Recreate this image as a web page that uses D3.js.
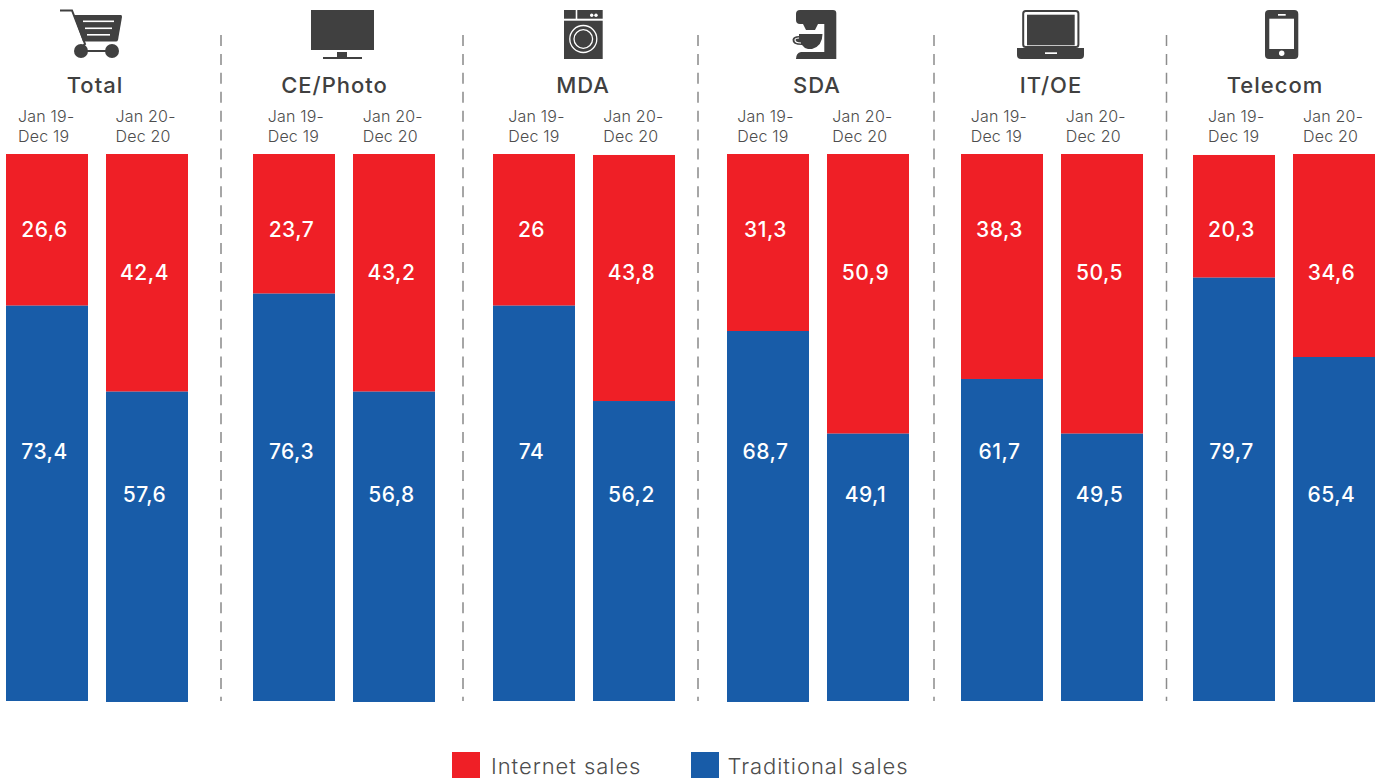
<!DOCTYPE html>
<html>
<head>
<meta charset="utf-8">
<script src="https://cdn.jsdelivr.net/npm/d3@7"></script>
<style>
  body { margin: 0; background: #fff; overflow: hidden; }
  text { font-family: Inter, "Noto Sans", sans-serif; }
</style>
</head>
<body>
<div id="my_dataviz"></div>
<script>
const categories = ["Total", "CE/Photo", "MDA", "SDA", "IT/OE", "Telecom"]
const periods = [["Jan 19-", "Dec 19"], ["Jan 20-", "Dec 20"]]

// the numbers printed on the bars
const internet2019 = ["26,6", "23,7", "26", "31,3", "38,3", "20,3"]
const internet2020 = ["42,4", "43,2", "43,8", "50,9", "50,5", "34,6"]
const traditional2019 = ["73,4", "76,3", "74", "68,7", "61,7", "79,7"]
const traditional2020 = ["57,6", "56,8", "56,2", "49,1", "49,5", "65,4"]

// the bars are not quite drawn to those numbers in the original,
// so the split is read off the picture, in percent of the bar
const split2019 = [72.27, 74.47, 72.27, 67.64, 58.87, 77.39]
const split2020 = [56.55, 56.55, 54.84, 48.87, 48.87, 62.89]
const top2019 = [100, 100, 100, 100, 100, 99.82]
const top2020 = [100, 100, 99.82, 100, 100, 100]
const bottom2019 = [0, 0, 0, -0.18, 0, 0]
const bottom2020 = [-0.18, -0.18, 0, 0, 0, -0.18]

const legendLabels = ["Internet sales", "Traditional sales"]

const red = "#ef1f26", blue = "#185ca8", dark = "#404040", grey = "#4d4d4d"

// layout
const width = 1382, height = 778
const groupLeft = [6, 253, 493, 727, 961, 1193]
const titleX = [95, 334.5, 583, 817, 1051, 1275]
const periodX = [[18, 267.7, 508.3, 737.3, 970.7, 1208], [115.5, 362.7, 603.3, 832.3, 1065.7, 1303]]
const separatorX = [221, 463, 698, 934, 1166.5]
const separatorColor = ["#a6a6a6", "#a6a6a6", "#a6a6a6", "#8c8c8c", "#8c8c8c"]
const separatorWidth = [2, 2, 2, 1.5, 1.5]

const svg = d3.select("#my_dataviz")
  .append("svg")
    .attr("width", width)
    .attr("height", height)
    .attr("style", "display:block;background-color:white;")

const y = d3.scaleLinear().domain([0, 100]).range([701, 154])
const group = d3.scaleOrdinal().domain(categories).range(groupLeft)
const inner = d3.scaleBand().domain([0, 1]).range([0, 182]).paddingInner(0.18).paddingOuter(0)

const bars = categories.flatMap((c, i) => [
  {c, p: 0, internet: internet2019[i], traditional: traditional2019[i], split: split2019[i], top: top2019[i], bottom: bottom2019[i]},
  {c, p: 1, internet: internet2020[i], traditional: traditional2020[i], split: split2020[i], top: top2020[i], bottom: bottom2020[i]}
])
const barX = d => group(d.c) + inner(d.p)

// separators
svg.selectAll("line.sep")
  .data(separatorX)
  .join("line")
    .attr("class", "sep")
    .attr("x1", d => d).attr("x2", d => d)
    .attr("y1", 35).attr("y2", 701)
    .attr("stroke", (d, i) => separatorColor[i])
    .attr("stroke-width", (d, i) => separatorWidth[i])
    .attr("stroke-dasharray", "11 7.91")

// bars
svg.selectAll("rect.internet")
  .data(bars)
  .join("rect")
    .attr("class", "internet")
    .attr("x", barX)
    .attr("y", d => y(d.top))
    .attr("width", inner.bandwidth())
    .attr("height", d => y(d.split) - y(d.top))
    .attr("fill", red)

svg.selectAll("rect.traditional")
  .data(bars)
  .join("rect")
    .attr("class", "traditional")
    .attr("x", barX)
    .attr("y", d => y(d.split))
    .attr("width", inner.bandwidth())
    .attr("height", d => y(d.bottom) - y(d.split))
    .attr("fill", blue)

// value labels sit on fixed rows, not in the middle of the segments
const internetRow = [237, 280], traditionalRow = [459, 502]
const valueLabel = (key, rows) => svg.selectAll("text." + key)
  .data(bars)
  .join("text")
    .attr("class", key)
    .attr("x", d => barX(d) + inner.bandwidth() / 2 - 2.5)
    .attr("y", d => rows[d.p])
    .attr("text-anchor", "middle")
    .attr("fill", "#fff")
    .attr("font-size", 21)
    .attr("font-weight", 500)
    .attr("letter-spacing", 0.5)
    .text(d => d[key])
valueLabel("internet", internetRow)
valueLabel("traditional", traditionalRow)

// titles
svg.selectAll("text.title")
  .data(categories)
  .join("text")
    .attr("class", "title")
    .attr("x", (d, i) => titleX[i])
    .attr("y", 93)
    .attr("text-anchor", "middle")
    .attr("fill", dark)
    .attr("font-size", 22)
    .attr("font-weight", 500)
    .attr("letter-spacing", 1)
    .text(d => d)

// period labels
categories.forEach((c, i) => {
  periods.forEach((lines, p) => {
    lines.forEach((line, l) => {
      svg.append("text")
        .attr("x", periodX[p][i])
        .attr("y", 122 + l * 19.7)
        .attr("fill", grey)
        .attr("font-size", 16)
        .attr("font-weight", 300)
        .attr("letter-spacing", 0.2)
        .text(line)
    })
  })
})

// legend
const legendX = [452, 691]
const legendTextX = [491, 727.5]
const legendColors = [red, blue]
svg.selectAll("rect.legend")
  .data(legendLabels)
  .join("rect")
    .attr("class", "legend")
    .attr("x", (d, i) => legendX[i])
    .attr("y", 752)
    .attr("width", 28)
    .attr("height", 26)
    .attr("fill", (d, i) => legendColors[i])
svg.selectAll("text.legend")
  .data(legendLabels)
  .join("text")
    .attr("class", "legend")
    .attr("x", (d, i) => legendTextX[i])
    .attr("y", 774)
    .attr("fill", grey)
    .attr("font-size", 22)
    .attr("font-weight", 300)
    .attr("letter-spacing", 0.95)
    .text(d => d)

// icons
const icons = svg.append("g").attr("fill", dark)
const box = (g, x, y, w, h, fill, r) => g.append("rect")
  .attr("x", x).attr("y", y).attr("width", w).attr("height", h)
  .attr("fill", fill || dark).attr("rx", r || 0)
const ring = (g, cx, cy, r, w) => g.append("circle")
  .attr("cx", cx).attr("cy", cy).attr("r", r)
  .attr("fill", "none").attr("stroke", "#fff").attr("stroke-width", w)

// cart
icons.append("path")
  .attr("d", "M60 10.5 L72 10.5 L85 44 L83 46")
  .attr("fill", "none").attr("stroke", dark).attr("stroke-width", 2)
icons.append("path").attr("d", "M73.5 15 L121 15 Q122 15 122 17 L118 40 Q117.500 41.500 116 41.500 L83 41.500 Z")
box(icons, 83, 20.5, 31, 1.6, "#fff")
box(icons, 85, 27.5, 27, 1.6, "#fff")
box(icons, 87, 34, 23, 1.6, "#fff")
box(icons, 81, 50, 31, 2)
icons.append("circle").attr("cx", 81).attr("cy", 51).attr("r", 7)
icons.append("circle").attr("cx", 112).attr("cy", 51).attr("r", 7)

// tv
box(icons, 311, 10, 63, 40)
box(icons, 337, 52, 10, 6)
box(icons, 323, 57, 39, 2)

// washer
box(icons, 564, 10, 11.7, 8.7)
box(icons, 577.3, 10, 25.4, 8.7)
icons.append("circle").attr("cx", 591.7).attr("cy", 15.3).attr("r", 1.7).attr("fill", "#fff")
icons.append("circle").attr("cx", 596).attr("cy", 15.3).attr("r", 1.7).attr("fill", "#fff")
box(icons, 564, 20.7, 38.7, 38.3)
ring(icons, 583.3, 39, 13.5, 1.3)
ring(icons, 583.3, 39, 9.3, 1.3)

// coffee machine
icons.append("path").attr("d", "M800 10 L833 10 Q836.300 10 836.300 13 L836.300 59 L796 59 Q796 53 801 52 L824.300 52 L824.300 24 L800 24 Q796 24 796 20 L796 14 Q796 10 800 10 Z")
icons.append("path").attr("d", "M803 24 L818 24 L815 30 L806 30 Z")
icons.append("path")
  .attr("d", "M799 34 L822.500 34 Q822.500 46 812 49 L808 49 Q804 48 802 45 Q792 45 792.500 39.500 Q793 36 799 36 Z")
icons.append("path")
  .attr("d", "M799 38 Q795 38 795 40 Q795 43 801 43")
  .attr("fill", "none").attr("stroke", "#fff").attr("stroke-width", 1.2)

// laptop
box(icons, 1023.2, 11, 55.2, 36, "none", 2.5)
  .attr("stroke", dark).attr("stroke-width", 2)
box(icons, 1027, 14.7, 47.7, 30.6)
icons.append("path").attr("d", "M1017 48 L1084 48 L1084 55 Q1084 59 1080 59 L1021 59 Q1017 59 1017 55 Z")
box(icons, 1045, 52.3, 12, 1.7, "#fff")

// phone
box(icons, 1265, 10, 33.3, 49, dark, 4)
box(icons, 1269.3, 18.7, 24.7, 30.3, "#fff")
box(icons, 1278, 14, 7.7, 1.7, "#fff")
icons.append("circle").attr("cx", 1281.7).attr("cy", 53.3).attr("r", 2.7).attr("fill", "#fff")
</script>
</body>
</html>
